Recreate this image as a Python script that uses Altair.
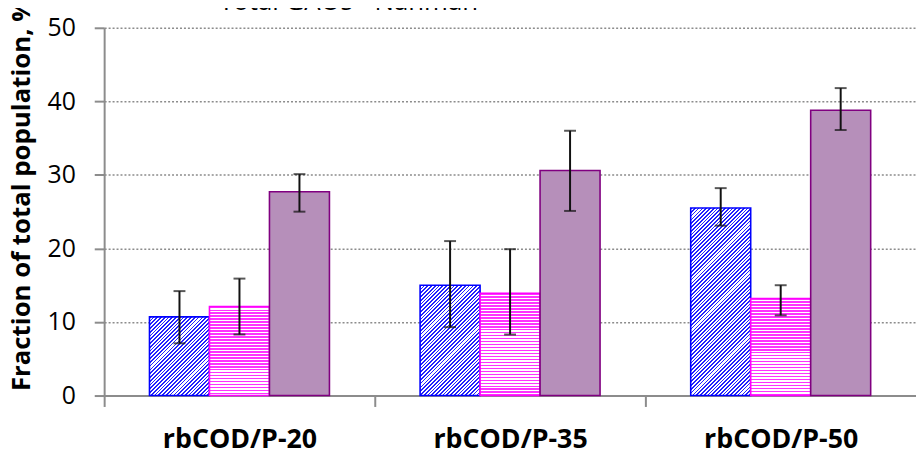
import altair as alt
import pandas as pd

# ---- data ----
groups = ["rbCOD/P-20", "rbCOD/P-35", "rbCOD/P-50"]
series = ["Total PAOs", "Competibacter", "Total GAOs - Nahman"]

pao_val = [10.7, 15.0, 25.5]
pao_lo = [7.1, 9.3, 23.1]
pao_hi = [14.2, 21.0, 28.2]

comp_val = [12.1, 13.9, 13.2]
comp_lo = [8.3, 8.3, 10.9]
comp_hi = [15.9, 19.9, 15.0]

gao_val = [27.7, 30.6, 38.8]
gao_lo = [25.0, 25.1, 36.1]
gao_hi = [30.1, 36.0, 41.8]

y_ticks = [0, 10, 20, 30, 40, 50]

vals = [pao_val, comp_val, gao_val]
los = [pao_lo, comp_lo, gao_lo]
his = [pao_hi, comp_hi, gao_hi]

rows = []
for si, s in enumerate(series):
    for gi, g in enumerate(groups):
        rows.append({"group": g, "series": s, "value": vals[si][gi],
                     "lo": los[si][gi], "hi": his[si][gi]})
df = pd.DataFrame(rows)

# ---- layout ----
W, H = 819, 371
P_IN = 0.335
step = W / 3
bar_w = step * (1 - P_IN) / 3
px_per_unit = H / 50

FONT = "Open Sans"
GRAY = "#8c8c8c"

x_enc = alt.X("group:N",
              scale=alt.Scale(domain=groups, paddingInner=P_IN, paddingOuter=P_IN / 2),
              axis=alt.Axis(title=None, labelFont=FONT, labelFontSize=27, labelFontWeight="bold",
                            labelColor="#000", labelPadding=20,
                            tickOffset=-step / 2, labelOffset=step / 2,
                            tickSize=11, tickWidth=2, tickColor=GRAY, domainColor=GRAY,
                            domainWidth=2, labelAngle=0, grid=False))
xo_enc = alt.XOffset("series:N", scale=alt.Scale(domain=series, paddingInner=0, paddingOuter=0))
y_axis = alt.Axis(values=y_ticks, title="Fraction of total population, %", titleFont=FONT,
                  titleFontSize=26, titleFontWeight="bold", titleColor="#000",
                  titleX=-70, titleY=168, titleAngle=270, titleAlign="center",
                  titleBaseline="bottom",
                  labelFont=FONT, labelFontSize=25, labelColor="#000", labelPadding=19,
                  tickSize=10, tickWidth=2, tickColor=GRAY, domainColor=GRAY, domainWidth=2,
                  grid=True, gridColor=GRAY, gridDash=[2, 2], gridWidth=1.5)
y_scale = alt.Scale(domain=[0, 50], nice=False)


def stripes(period_t, frac, color, bg="#ffffff", n_max=600):
    stops = []
    k = 0
    t = 0.0
    while t < 1.0 and k < n_max:
        a = t
        b = min(1.0, t + period_t * frac)
        c = min(1.0, t + period_t)
        stops.append({"offset": a, "color": color})
        stops.append({"offset": b, "color": color})
        stops.append({"offset": b, "color": bg})
        stops.append({"offset": c, "color": bg})
        t = c
        k += 1
    return stops


def hatch_fill(value):
    h = value * px_per_unit
    w = bar_w
    r = h / w
    kk = (w + h) / (w * (1 + r * r))
    return {"gradient": "linear", "x1": 0, "y1": 0, "x2": kk, "y2": kk * r,
            "stops": stripes(3.8 / (w + h), 0.45, "#2222ff")}


def hline_fill(value):
    h = value * px_per_unit
    return {"gradient": "linear", "x1": 0, "y1": 0, "x2": 0, "y2": 1,
            "stops": stripes(3.0 / h, 0.5, "#ff33ff")}


strokes = ["#0000ff", "#ff00ff", "#800080"]

layers = []
for si, s in enumerate(series):
    for gi, g in enumerate(groups):
        v = vals[si][gi]
        if si == 0:
            fill = hatch_fill(v)
        elif si == 1:
            fill = hline_fill(v)
        else:
            fill = "#b68fba"
        layers.append(
            alt.Chart(df)
            .transform_filter((alt.datum.group == g) & (alt.datum.series == s))
            .mark_bar(fill=fill, stroke=strokes[si], strokeWidth=1.6)
            .encode(x=x_enc, xOffset=xo_enc, y=alt.Y("value:Q", scale=y_scale, axis=y_axis))
        )

err = alt.Chart(df).mark_rule(color="#111", strokeWidth=2).encode(
    x=x_enc, xOffset=xo_enc, y=alt.Y("lo:Q", scale=y_scale, axis=y_axis), y2="hi:Q")
cap_lo = alt.Chart(df).mark_tick(color="#111", thickness=2, size=12).encode(
    x=x_enc, xOffset=xo_enc, y=alt.Y("lo:Q", scale=y_scale, axis=y_axis))
cap_hi = alt.Chart(df).mark_tick(color="#111", thickness=2, size=12).encode(
    x=x_enc, xOffset=xo_enc, y=alt.Y("hi:Q", scale=y_scale, axis=y_axis))

legend_layer = alt.Chart(df).mark_square(filled=True, opacity=0).encode(
    x=x_enc, xOffset=xo_enc, y=alt.Y("value:Q", scale=y_scale, axis=y_axis),
    color=alt.Color("series:N",
                    scale=alt.Scale(domain=series, range=["#6f6ff5", "#ff80ff", "#d0a6d6"]),
                    legend=alt.Legend(orient="none", legendX=77, legendY=-95, title=None,
                                      symbolType="M-0.5,-1.1H0.5V-0.1H-0.5Z",
                                      symbolSize=289, symbolOpacity=1,
                                      symbolStrokeWidth=0, labelFont=FONT, labelFontSize=26,
                                      labelColor="#000", labelOffset=13, rowPadding=2,
                                      labelLimit=600)))

chart = alt.layer(*layers, err, cap_lo, cap_hi, legend_layer).properties(
    width=W, height=H,
    autosize=alt.AutoSizeParams(type="none"),
    padding={"left": 97, "top": 18, "right": 0, "bottom": 57},
    background="white",
).configure_view(stroke=None)

chart.save("out.html", embed_options={"renderer": "svg", "actions": False})
